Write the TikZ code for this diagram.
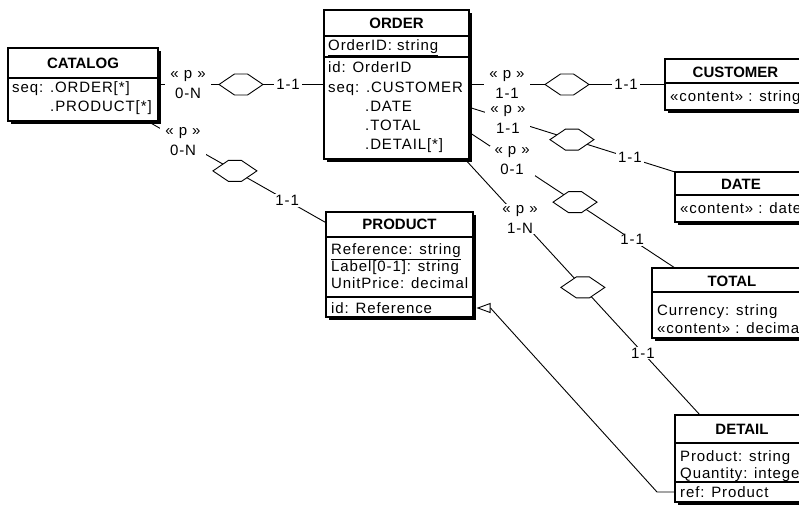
\documentclass[tikz,border=0pt]{standalone}
\usepackage{fontspec}
\setmainfont{Liberation Sans}[LetterSpace=6,BoldFeatures={LetterSpace=0}]
\usetikzlibrary{calc,shadows,arrows.meta}

\newcommand\diafont{\fontsize{15}{19}\selectfont}

\tikzset{
  boxline/.style={line width=1.2pt},
  entity/.style={draw, boxline, fill=white, outer sep=0pt, inner sep=0pt, anchor=north west,
    drop shadow={shadow xshift=3.2pt, shadow yshift=-3.2pt, opacity=1, fill=black}},
  enttitle/.style={font=\diafont\bfseries, inner sep=0pt, text height=10.8pt, text depth=0pt},
  attrtext/.style={font=\diafont, anchor=west, inner sep=0pt, text height=10.6pt, text depth=0pt},
  conn/.style={line width=0.9pt},
  rolelabel/.style={font=\fontsize{15}{20}\selectfont, fill=white, inner xsep=5pt, inner ysep=1pt, align=center},
  cardlabel/.style={font=\diafont, fill=white, inner xsep=2pt, inner ysep=1pt},
  rel/.pic={\draw[conn, fill=white] (-22,0) -- (-6.5,-10.5) -- (6.5,-10.5) -- (22,0)
            -- (6.5,10.5) -- (-6.5,10.5) -- cycle;},
}

\begin{document}
\begin{tikzpicture}[x=1pt,y=-1pt]
\useasboundingbox (0,0) rectangle (799,508);
\clip (0,0) rectangle (799,508);

% ---------- entity types ----------
% CATALOG
\node[entity, minimum width=150pt, minimum height=73pt] (CATALOG) at (8,48) {};
\draw[boxline] ($(CATALOG.north west)+(0,30)$) -- ($(CATALOG.north east)+(0,30)$);
\node[enttitle] (catT) at ($(CATALOG.north)+(0,15)$) {CATALOG};
\node[attrtext] (cat1) at (12,87) {seq: .ORDER[*]};
\node[attrtext] (cat2) at (50,106) {.PRODUCT[*]};

% ORDER
\node[entity, minimum width=145pt, minimum height=149pt] (ORDER) at (324,10) {};
\draw[boxline] ($(ORDER.north west)+(0,26)$) -- ($(ORDER.north east)+(0,26)$);
\draw[boxline] ($(ORDER.north west)+(0,47)$) -- ($(ORDER.north east)+(0,47)$);
\node[enttitle] (ordT) at ($(ORDER.north)+(0,13)$) {ORDER};
\node[attrtext] (ord1) at (328,45) {\underline{OrderID: string}};
\node[attrtext] (ord2) at (328,67) {id: OrderID};
\node[attrtext] (ord3) at (328,87) {seq: .CUSTOMER};
\node[attrtext] (ord4) at (365,106) {.DATE};
\node[attrtext] (ord5) at (365,125) {.TOTAL};
\node[attrtext] (ord6) at (365,144) {.DETAIL[*]};

% PRODUCT
\node[entity, minimum width=147pt, minimum height=105pt] (PRODUCT) at (326,212) {};
\draw[boxline] ($(PRODUCT.north west)+(0,25)$) -- ($(PRODUCT.north east)+(0,25)$);
\draw[boxline] ($(PRODUCT.north west)+(0,85)$) -- ($(PRODUCT.north east)+(0,85)$);
\node[enttitle] (prdT) at ($(PRODUCT.north)+(0,12)$) {PRODUCT};
\node[attrtext] (prd1) at (331,249) {\underline{Reference: string}};
\node[attrtext] (prd2) at (331,266) {Label[0-1]: string};
\node[attrtext] (prd3) at (331,283) {UnitPrice: decimal};
\node[attrtext] (prd4) at (331,308) {id: Reference};

% CUSTOMER
\node[entity, minimum width=141pt, minimum height=51pt] (CUSTOMER) at (665,59) {};
\draw[boxline] ($(CUSTOMER.north west)+(0,24)$) -- ($(CUSTOMER.north east)+(0,24)$);
\node[enttitle] (cusT) at ($(CUSTOMER.north)+(0,13)$) {CUSTOMER};
\node[attrtext] (cus1) at (670,96) {«content» : string};

% DATE
\node[entity, minimum width=132pt, minimum height=50pt] (DATE) at (675,172) {};
\draw[boxline] ($(DATE.north west)+(0,23)$) -- ($(DATE.north east)+(0,23)$);
\node[enttitle] (datT) at ($(DATE.north)+(0,12)$) {DATE};
\node[attrtext] (dat1) at (680,208) {«content» : date};

% TOTAL
\node[entity, minimum width=160pt, minimum height=70pt] (TOTAL) at (652,268) {};
\draw[boxline] ($(TOTAL.north west)+(0,24)$) -- ($(TOTAL.north east)+(0,24)$);
\node[enttitle] (totT) at ($(TOTAL.north)+(0,13)$) {TOTAL};
\node[attrtext] (tot1) at (657,310) {Currency: string};
\node[attrtext] (tot2) at (657,328) {«content» : decimal};

% DETAIL
\node[entity, minimum width=134pt, minimum height=87pt] (DETAIL) at (675,415) {};
\draw[boxline] ($(DETAIL.north west)+(0,28)$) -- ($(DETAIL.north east)+(0,28)$);
\draw[boxline] ($(DETAIL.north west)+(0,67)$) -- ($(DETAIL.north east)+(0,67)$);
\node[enttitle] (detT) at ($(DETAIL.north)+(0,14)$) {DETAIL};
\node[attrtext] (det1) at (680,456) {Product: string};
\node[attrtext] (det2) at (680,473) {Quantity: integer};
\node[attrtext] (det3) at (680,492) {ref: Product};

% ---------- relationship types ----------
\coordinate (dateIn) at (DATE.north west);
\coordinate (totIn) at ($(TOTAL.north west)+(23,0)$);
\coordinate (detIn) at ($(DETAIL.north west)+(25,0)$);

\draw[conn] (CATALOG) -- (ORDER);
\draw[conn] (CATALOG) -- (PRODUCT);
\draw[conn] (ORDER) -- (CUSTOMER);
\draw[conn] (ORDER) -- (dateIn);
\draw[conn] (ORDER) -- (totIn);
\draw[conn] (ORDER) -- (detIn);

% catalog -> order
\node[rolelabel] (r1) at ($(CATALOG.center)!0.335!(ORDER.center)$) {« p »\\0-N};
\coordinate (d1) at ($(CATALOG.center)!0.504!(ORDER.center)$);
\pic at (d1) {rel};
\node[cardlabel] (c1) at ($(CATALOG.center)!0.654!(ORDER.center)$) {1-1};

% catalog -> product
\node[rolelabel] (r2) at ($(CATALOG.center)!0.316!(PRODUCT.center)$) {« p »\\0-N};
\coordinate (d2) at ($(CATALOG.center)!0.48!(PRODUCT.center)$);
\pic at (d2) {rel};
\node[cardlabel] (c2) at ($(CATALOG.center)!0.645!(PRODUCT.center)$) {1-1};

% order -> customer
\node[rolelabel] (r3) at ($(ORDER.center)!0.326!(CUSTOMER.center)$) {« p »\\1-1};
\coordinate (d3) at ($(ORDER.center)!0.503!(CUSTOMER.center)$);
\pic at (d3) {rel};
\node[cardlabel] (c3) at ($(ORDER.center)!0.677!(CUSTOMER.center)$) {1-1};

% order -> date
\node[rolelabel] (r4) at ($(ORDER.center)!0.40!(dateIn)$) {« p »\\1-1};
\coordinate (d4) at ($(ORDER.center)!0.63!(dateIn)$);
\pic at (d4) {rel};
\node[cardlabel] (c4) at ($(ORDER.center)!0.838!(dateIn)$) {1-1};

% order -> total
\node[rolelabel] (r5) at ($(ORDER.center)!0.415!(totIn)$) {« p »\\0-1};
\coordinate (d5) at ($(ORDER.center)!0.641!(totIn)$);
\pic at (d5) {rel};
\node[cardlabel] (c5) at ($(ORDER.center)!0.846!(totIn)$) {1-1};

% order -> detail
\node[rolelabel] (r6) at ($(ORDER.center)!0.407!(detIn)$) {« p »\\1-N};
\coordinate (d6) at ($(ORDER.center)!0.614!(detIn)$);
\pic at (d6) {rel};
\node[cardlabel] (c6) at ($(ORDER.center)!0.812!(detIn)$) {1-1};

% ---------- reference constraint DETAIL.ref -> PRODUCT.id ----------
\coordinate (refRow) at (DETAIL.west |- det3);
\coordinate (bendA) at ($(refRow)+(-18,0)$);
\coordinate (isaTip) at ($(PRODUCT.east |- prd4)+(3.5,0)$);
\coordinate (bendB) at ($(isaTip)+(14,0)$);
\draw[conn, -{Triangle[open, length=14pt, width=10pt]}]
  (refRow) -- (bendA) -- (bendB) -- (isaTip);

\end{tikzpicture}
\end{document}
